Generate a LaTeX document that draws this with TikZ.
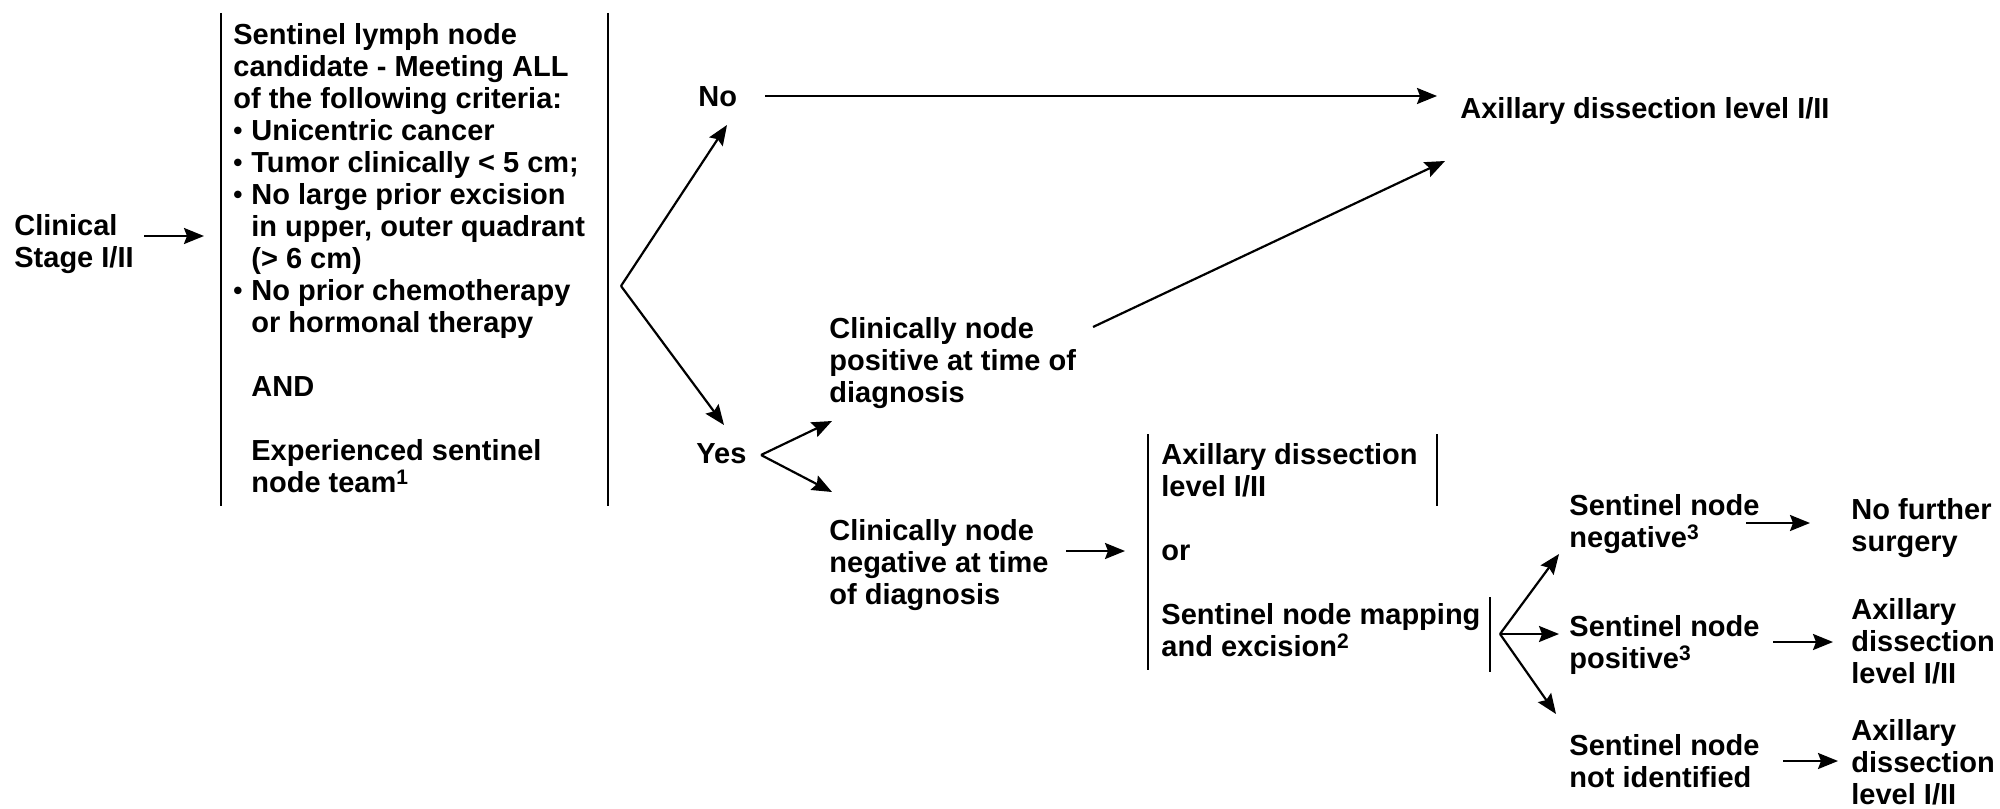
\documentclass[tikz,border=0pt]{standalone}
\usepackage{fontspec}
\setmainfont{Liberation Sans}
\usetikzlibrary{arrows.meta}
\newcommand\bul{\makebox[9pt][l]{\raisebox{0.3pt}{\scalebox{0.9}{\textbullet}}}}
\newcommand\ind{\hspace*{9pt}}
\newcommand\sups[1]{\raisebox{0.5ex}{\fontsize{10.5}{12}\selectfont #1}}
\begin{document}
\begin{tikzpicture}[x=0.5pt,y=-0.5pt,
  txt/.style={font=\fontsize{14.5}{16}\selectfont\bfseries, inner sep=0pt, align=left, anchor=north west},
  arr/.style={-{Stealth[length=10pt,width=8pt,inset=1.5pt]}, line width=1.1pt},
  bar/.style={line width=1.35pt}]
\useasboundingbox (0,0) rectangle (2000,808);
% left
\node[txt] (clin) at (14,214) {Clinical\\Stage I/II};
\coordinate (boxin) at (204,236);
\coordinate (clout) at (144,236);
\draw[arr] (clout) -- (boxin);
% criteria box
\coordinate (b1t) at (221,13); \coordinate (b1b) at (221,506);
\coordinate (b2t) at (608,13); \coordinate (b2b) at (608,506);
\draw[bar] (b1t) -- (b1b);
\draw[bar] (b2t) -- (b2b);
\node[txt] (crit) at (233,23) {Sentinel lymph node\\
candidate - Meeting ALL\\
of the following criteria:\\
\bul Unicentric cancer\\
\bul Tumor clinically < 5 cm;\\
\bul No large prior excision\\
\ind in upper, outer quadrant\\
\ind (> 6 cm)\\
\bul No prior chemotherapy\\
\ind or hormonal therapy\\[16pt]
\ind AND\\[16pt]
\ind Experienced sentinel\\
\ind node team\sups{1}};
% No / Yes
\coordinate (br1) at (621,286);
\node[txt] (no) at (698,86) {No};
\node[txt] (yes) at (696,443) {Yes};
\coordinate (noin) at (727,125);
\coordinate (yesin) at (724,425);
\draw[arr] (br1) -- (noin);
\draw[arr] (br1) -- (yesin);
\node[txt] (ax1) at (1460,97) {Axillary dissection level I/II};
\coordinate (nostart) at (765,96);
\coordinate (noend) at (1437,96);
\draw[arr] (nostart) -- (noend);
% Yes branch
\coordinate (ybr) at (761,455);
\coordinate (posin) at (832,421);
\coordinate (negin) at (832,492);
\draw[arr] (ybr) -- (posin);
\draw[arr] (ybr) -- (negin);
\node[txt] (pos) at (829,317) {Clinically node\\positive at time of\\diagnosis};
\node[txt] (neg) at (829,519) {Clinically node\\negative at time\\of diagnosis};
\coordinate (posout) at (1093,327);
\coordinate (axin) at (1445,161);
\draw[arr] (posout) -- (axin);
\coordinate (negout) at (1066,551);
\coordinate (midin) at (1125,551);
\draw[arr] (negout) -- (midin);
% middle box
\coordinate (m1t) at (1148,434); \coordinate (m1b) at (1148,670);
\coordinate (m2t) at (1437,434); \coordinate (m2b) at (1437,506);
\coordinate (m3t) at (1490,597); \coordinate (m3b) at (1490,672);
\draw[bar] (m1t) -- (m1b);
\draw[bar] (m2t) -- (m2b);
\draw[bar] (m3t) -- (m3b);
\node[txt] (mid) at (1161,443) {Axillary dissection\\level I/II\\[16pt]or\\[16pt]Sentinel node mapping\\and excision\sups{2}};
% sentinel outcomes
\coordinate (sbr) at (1500,634);
\coordinate (s1in) at (1559,554);
\coordinate (s2in) at (1559,634);
\coordinate (s3in) at (1556,714);
\draw[arr] (sbr) -- (s1in);
\draw[arr] (sbr) -- (s2in);
\draw[arr] (sbr) -- (s3in);
\node[txt] (sneg) at (1569,494) {Sentinel node\\negative\sups{3}};
\node[txt] (spos) at (1569,615) {Sentinel node\\positive\sups{3}};
\node[txt] (snid) at (1569,734) {Sentinel node\\not identified};
\node[txt] (o1) at (1851,498) {No further\\surgery};
\node[txt] (o2) at (1851,598) {Axillary\\dissection\\level I/II};
\node[txt] (o3) at (1851,719) {Axillary\\dissection\\level I/II};
\coordinate (a1s) at (1746,523); \coordinate (a1e) at (1810,523);
\coordinate (a2s) at (1773,642); \coordinate (a2e) at (1833,642);
\coordinate (a3s) at (1783,761); \coordinate (a3e) at (1838,761);
\draw[arr] (a1s) -- (a1e);
\draw[arr] (a2s) -- (a2e);
\draw[arr] (a3s) -- (a3e);
\end{tikzpicture}
\end{document}
